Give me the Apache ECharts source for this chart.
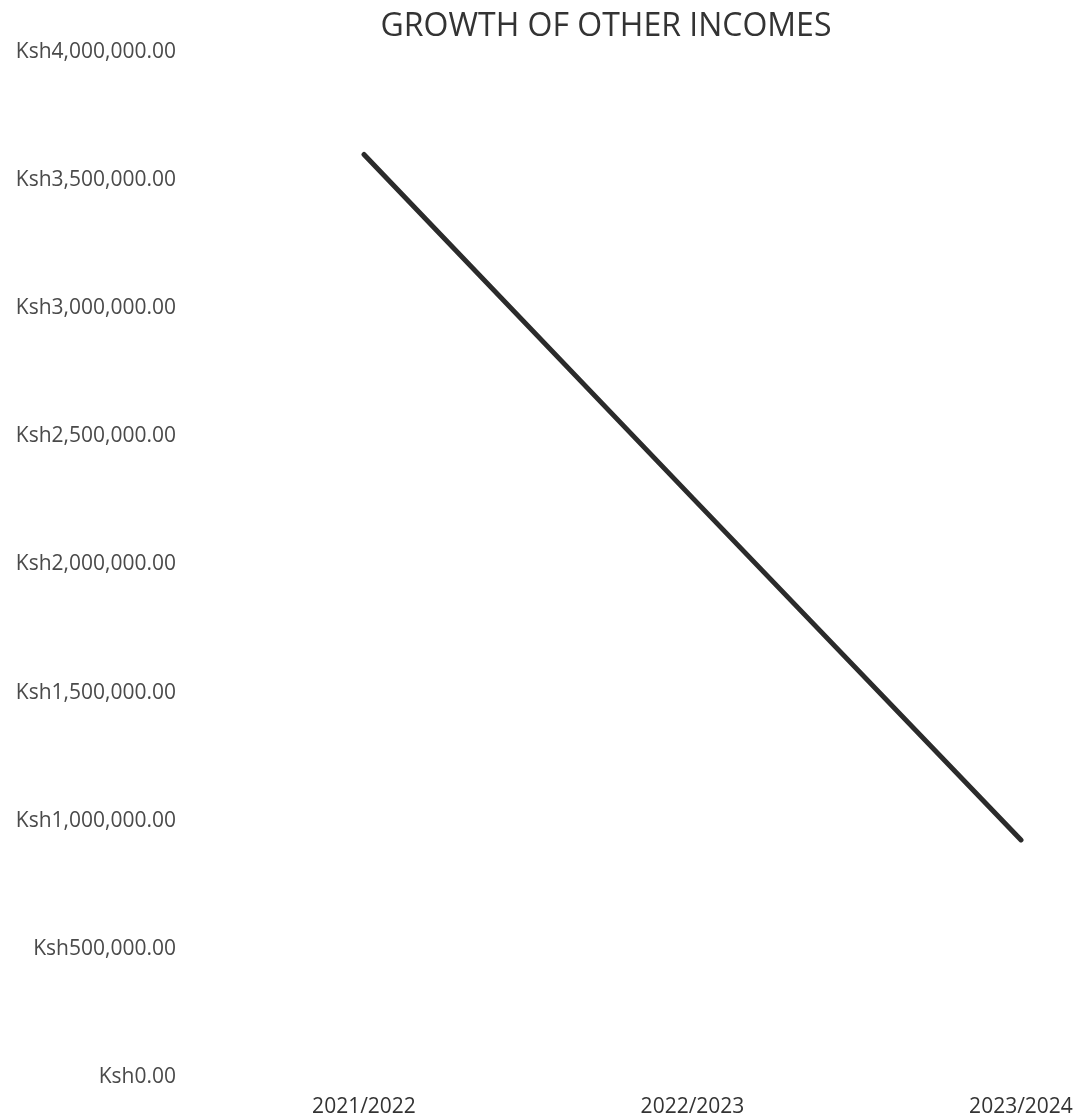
<!DOCTYPE html>
<html>
<head>
<meta charset="utf-8">
<script src="https://cdn.jsdelivr.net/npm/echarts@6/dist/echarts.min.js"></script>
<style>
  html, body { margin: 0; padding: 0; background: #fff; }
  #chart { width: 1087px; height: 1119px; }
</style>
</head>
<body>
<div id="chart"></div>
<script>
// Other income per financial year (Ksh)
const years = ['2021/2022', '2022/2023', '2023/2024'];
const otherIncome = [3600000, 2260000, 925000];
const yMin = 0;
const yMax = 4000000;
const yStep = 500000;

function ksh(v) {
  return 'Ksh' + v.toLocaleString('en-US', { minimumFractionDigits: 2, maximumFractionDigits: 2 });
}

const chart = echarts.init(document.getElementById('chart'), null, { renderer: 'canvas' });
chart.setOption({
  animation: false,
  backgroundColor: '#ffffff',
  title: {
    text: 'GROWTH OF OTHER INCOMES',
    left: 601,
    textAlign: 'center',
    top: 6,
    textStyle: { fontFamily: 'Open Sans', fontSize: 32, fontWeight: 'normal', color: '#333333' }
  },
  grid: { left: 364, right: 66, top: 52, bottom: 42, containLabel: false },
  xAxis: {
    type: 'category',
    data: years,
    boundaryGap: false,
    axisLine: { show: false },
    axisTick: { show: false },
    splitLine: { show: false },
    axisLabel: { margin: 20, fontFamily: 'Open Sans', fontSize: 21, color: '#333333' }
  },
  yAxis: {
    type: 'value',
    min: yMin,
    max: yMax,
    interval: yStep,
    axisLine: { show: false },
    axisTick: { show: false },
    splitLine: { show: false },
    axisLabel: {
      margin: 188,
      fontFamily: 'Open Sans',
      fontSize: 21,
      color: '#4a4a4a',
      padding: [3, 0, 0, 0],
      formatter: ksh
    }
  },
  series: [{
    type: 'line',
    data: otherIncome,
    symbol: 'none',
    lineStyle: { color: '#2b2b2b', width: 5, cap: 'round' }
  }]
});
</script>
</body>
</html>
